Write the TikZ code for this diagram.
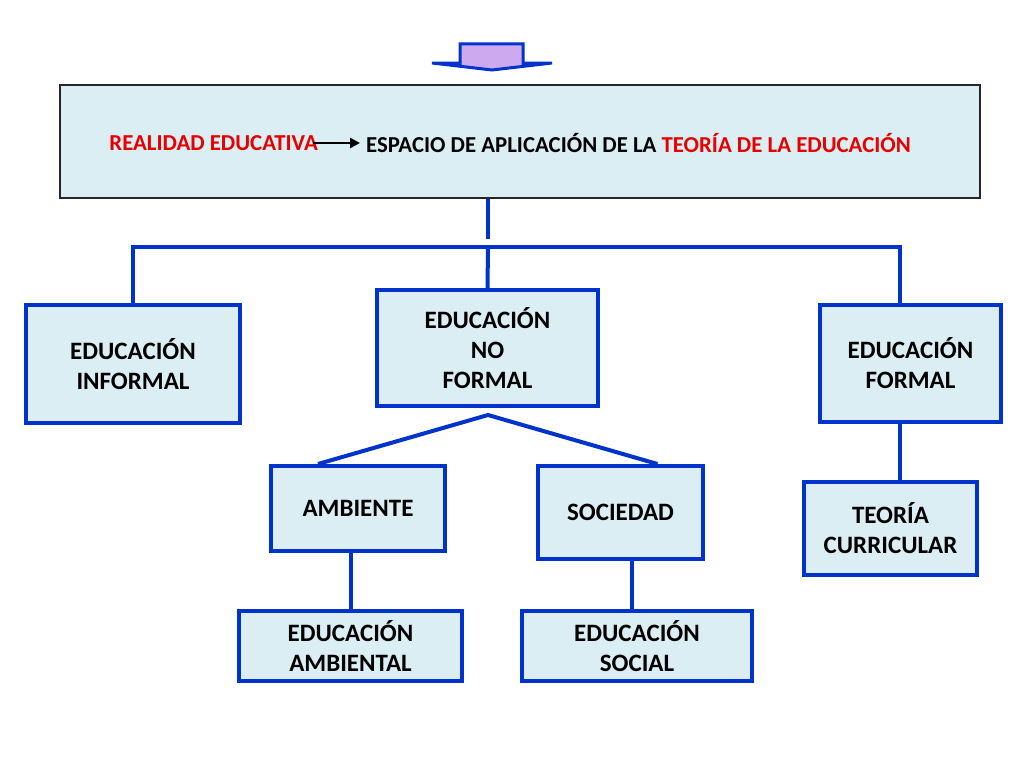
\documentclass[tikz,border=0pt]{standalone}
\usepackage{fontspec}
\setmainfont{Carlito}
\usetikzlibrary{arrows.meta}
\definecolor{boxblue}{RGB}{0,51,204}
\definecolor{boxfill}{RGB}{219,238,244}
\definecolor{lilac}{RGB}{205,170,240}
\definecolor{redtext}{RGB}{230,0,0}
\begin{document}
\begin{tikzpicture}[
		x=1pt,y=-1pt,
		box/.style={rectangle,draw=boxblue,line width=4pt,fill=boxfill,
				align=center,inner sep=0pt,font=\bfseries\fontsize{25}{30}\selectfont},
		link/.style={draw=boxblue,line width=4pt},
		headtext/.style={inner sep=0pt,font=\bfseries\fontsize{22.8}{24}\selectfont}
	]
	\useasboundingbox (0,0) rectangle (1024,768);
	% top arrow
	\draw[fill=lilac,draw=boxblue,line width=3pt,line join=miter]
	(460,44) -- (523,44) -- (523,63) -- (552,63) -- (492,70) -- (432,63) -- (460,63) -- cycle;
	% header
	\node[rectangle,draw=black!85,line width=1.2pt,fill=boxfill,
		minimum width=920pt,minimum height=113pt] (head) at (520,141.5) {};
	\node[headtext,text=redtext,anchor=east] (real) at (318,143) {REALIDAD EDUCATIVA};
	\node[headtext,anchor=west] (espacio) at (366,143)
	{ESPACIO DE APLICACIÓN DE LA \textcolor{redtext}{TEORÍA DE LA EDUCACIÓN}};
	\draw[line width=2.5pt,-{Triangle[length=10pt,width=10pt]}] ([xshift=-5pt]real.east) -- ([xshift=-6pt]espacio.west);
	% boxes
	\node[box,minimum width=214pt,minimum height=118pt] (informal) at (133,364) {EDUCACIÓN\\INFORMAL};
	\node[box,minimum width=221pt,minimum height=116pt] (noformal) at (487.5,348) {EDUCACIÓN\\NO\\FORMAL};
	\node[box,minimum width=181pt,minimum height=117pt] (formal) at (910.5,363.5) {EDUCACIÓN\\FORMAL};
	\node[box,minimum width=174pt,minimum height=85pt] (ambiente) at (358,508.5) {AMBIENTE};
	\node[box,minimum width=165pt,minimum height=93pt] (sociedad) at (620.5,512.5) {SOCIEDAD};
	\node[box,minimum width=173pt,minimum height=93pt] (teoria) at (890.5,528.5) {TEORÍA\\CURRICULAR};
	\node[box,minimum width=223pt,minimum height=70pt] (edamb) at (350.5,646) {EDUCACIÓN\\AMBIENTAL};
	\node[box,minimum width=230pt,minimum height=70pt] (edsoc) at (637,646) {EDUCACIÓN\\SOCIAL};
	% connectors
	\coordinate (bar) at (488,247);
	\coordinate (fork) at (488,415);
	\draw[link] (noformal.north |- head.south) -- ++(0,40);
	\draw[link] (informal.north) |- (bar) -| ([xshift=-11pt]formal.north);
	\draw[link] (bar) -- (noformal.north);
	\draw[link] ([xshift=-40pt]ambiente.north) -- (fork) -- ([xshift=37pt]sociedad.north);
	\draw[link] (edamb.north) -- (edamb.north |- ambiente.south);
	\draw[link] ([xshift=-5pt]edsoc.north) -- ([xshift=-5pt]edsoc.north |- sociedad.south);
	\draw[link] ([xshift=-11pt]formal.south) -- ([xshift=-11pt]formal.south |- teoria.north);
\end{tikzpicture}
\end{document}
